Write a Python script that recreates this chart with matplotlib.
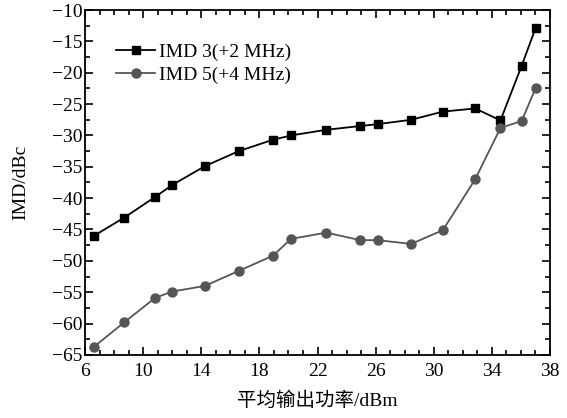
import matplotlib
matplotlib.use('Agg')
import matplotlib.pyplot as plt
from matplotlib.ticker import MultipleLocator

plt.rcParams['font.family'] = ['Liberation Serif', 'Noto Sans CJK SC', 'DejaVu Sans']
plt.rcParams['axes.unicode_minus'] = True

# 数据
p_out = [6.62, 8.70, 10.83, 12.0, 14.25, 16.58, 18.92, 20.18, 22.6,
         24.94, 26.14, 28.45, 30.63, 32.85, 34.59, 36.05, 37.02]
imd3 = [-46.0, -43.1, -39.8, -37.9, -34.9, -32.5, -30.7, -30.0, -29.1,
        -28.5, -28.2, -27.5, -26.2, -25.7, -27.6, -18.9, -12.8]
imd5 = [-63.7, -59.8, -55.9, -54.9, -54.0, -51.6, -49.2, -46.5, -45.5,
        -46.7, -46.7, -47.3, -45.1, -37.0, -28.8, -27.7, -22.4]
x_ticks = [6, 10, 14, 18, 22, 26, 30, 34, 38]

fig = plt.figure(figsize=(5.67, 4.18), dpi=100)
ax = fig.add_axes([0.150, 0.151, 0.820, 0.825])

ax.plot(p_out, imd3, color='black', marker='s', markersize=6, linewidth=1.3,
        label='IMD 3(+2 MHz)')
ax.plot(p_out, imd5, color='#555555', marker='o', markersize=6.5, linewidth=1.3,
        label='IMD 5(+4 MHz)')

ax.set_xlim(6, 38)
ax.set_ylim(-65, -10)
ax.set_xticks(x_ticks)
ax.xaxis.set_minor_locator(MultipleLocator(1))
ax.yaxis.set_major_locator(MultipleLocator(5))
ax.yaxis.set_minor_locator(MultipleLocator(2.5))
ax.tick_params(which='both', direction='in', top=True, right=True,
               labelsize=14, width=1.2)
ax.tick_params(which='major', length=6)
ax.tick_params(which='minor', length=3.5)
ax.tick_params(axis='x', pad=6)
ax.tick_params(axis='y', pad=2)
for s in ax.spines.values():
    s.set_linewidth(1.3)

ax.set_xlabel('平均输出功率/dBm', fontsize=14, labelpad=8)
ax.set_ylabel('IMD/dBc', fontsize=14, labelpad=16)

ax.legend(loc='upper left', bbox_to_anchor=(0.03, 0.955), frameon=False,
          fontsize=14, handlelength=2.0, handletextpad=0.2, labelspacing=0.3)

fig.savefig('out.png', dpi=100)
